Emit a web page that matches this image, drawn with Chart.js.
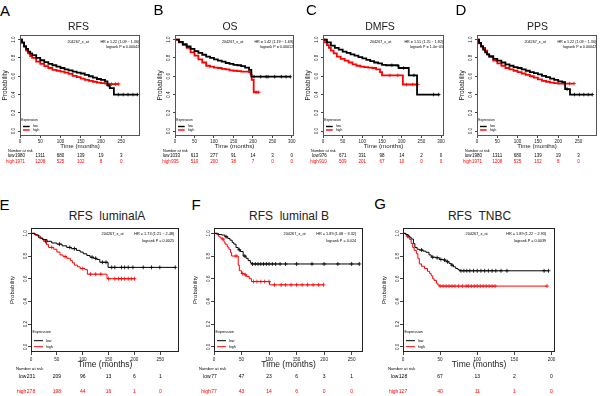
<!DOCTYPE html>
<html>
<head>
<meta charset="utf-8">
<script src="https://cdn.jsdelivr.net/npm/chart.js@4.4.1/dist/chart.umd.min.js"></script>
<style>
  body { margin: 0; width: 600px; height: 396px; position: relative; overflow: hidden; background: #fff;
         font-family: "Liberation Sans", Arial, sans-serif; }
  canvas { position: absolute; }
  .t { position: absolute; white-space: pre; line-height: 1; transform: translate(-50%, -50%); }
</style>
</head>
<body>
<script>
// axis ticks
const yTicks = [0, 0.2, 0.4, 0.6, 0.8, 1.0];
const ticks200 = [0, 50, 100, 150, 200];
const ticks250 = [0, 50, 100, 150, 200, 250];
const ticks300 = [0, 50, 100, 150, 200, 250, 300];

// Kaplan-Meier curves, [months, probability]
const rfsLow = [[0,1],[5,0.97],[10,0.93],[15,0.90],[20,0.87],[25,0.85],[30,0.83],[40,0.80],[50,0.775],[60,0.755],[70,0.735],[80,0.72],[90,0.705],[100,0.69],[110,0.675],[120,0.665],[130,0.65],[140,0.64],[150,0.63],[160,0.615],[170,0.60],[180,0.585],[190,0.57],[200,0.56],[210,0.545],[216,0.50],[222,0.47],[232,0.40],[292,0.40]];
const rfsLowCens = [[218,0.50],[243,0.40],[255,0.40],[267,0.40],[279,0.40],[290,0.40]];
const rfsHigh = [[0,1],[5,0.965],[10,0.92],[15,0.88],[20,0.85],[25,0.82],[30,0.80],[40,0.76],[50,0.735],[60,0.71],[70,0.69],[80,0.67],[90,0.66],[100,0.65],[110,0.64],[120,0.625],[130,0.605],[140,0.59],[150,0.575],[160,0.56],[170,0.55],[180,0.54],[190,0.53],[200,0.525],[210,0.52],[220,0.515],[244,0.515]];
const rfsHighCens = [[226,0.515],[236,0.515],[244,0.515]];
const rfsRiskLow = [1980, 1311, 680, 139, 19, 3];
const rfsRiskHigh = [1971, 1208, 525, 102, 8, 0];

const osLow = [[0,1],[10,0.975],[20,0.95],[30,0.925],[40,0.90],[50,0.875],[60,0.855],[70,0.835],[80,0.815],[90,0.80],[100,0.785],[110,0.77],[120,0.76],[130,0.745],[140,0.735],[150,0.725],[160,0.72],[170,0.71],[180,0.695],[190,0.67],[196,0.595],[296,0.595]];
const osLowCens = [[203,0.595],[220,0.595],[234,0.595],[239,0.595],[256,0.595],[273,0.595],[285,0.595],[296,0.595]];
const osHigh = [[0,1],[10,0.97],[20,0.94],[30,0.91],[40,0.86],[50,0.825],[60,0.785],[70,0.75],[80,0.715],[90,0.705],[100,0.695],[110,0.69],[120,0.68],[130,0.675],[140,0.665],[150,0.66],[160,0.655],[170,0.65],[190,0.645],[194,0.62],[197,0.56],[202,0.425],[215,0.425]];
const osHighCens = [[208,0.425],[215,0.425]];
const osRiskLow = [1033, 613, 277, 91, 14, 3, 0];
const osRiskHigh = [935, 510, 200, 38, 7, 0, 0];

const dmfsLow = [[0,1],[10,0.97],[20,0.935],[30,0.91],[40,0.89],[50,0.87],[60,0.855],[70,0.84],[80,0.825],[90,0.81],[100,0.795],[110,0.78],[120,0.765],[130,0.75],[140,0.74],[150,0.725],[160,0.72],[190,0.715],[192,0.69],[218,0.61],[239,0.40],[296,0.40]];
const dmfsLowCens = [[175,0.72],[205,0.69],[231,0.61],[281,0.40],[294,0.40]];
const dmfsHigh = [[0,1],[5,0.97],[10,0.94],[15,0.91],[20,0.88],[27,0.85],[35,0.815],[45,0.79],[55,0.77],[65,0.75],[75,0.73],[85,0.715],[95,0.705],[105,0.70],[115,0.695],[125,0.69],[135,0.675],[145,0.645],[150,0.61],[203,0.51],[241,0.51]];
const dmfsHighCens = [[170,0.61],[190,0.61],[212,0.51],[228,0.51],[241,0.51]];
const dmfsRiskLow = [976, 671, 331, 98, 14, 2, 0];
const dmfsRiskHigh = [910, 509, 201, 67, 10, 0, 0];

const ppsLow = [[0,1],[5,0.965],[10,0.925],[15,0.89],[20,0.86],[25,0.84],[30,0.82],[40,0.79],[50,0.77],[60,0.75],[70,0.73],[80,0.715],[90,0.70],[100,0.69],[110,0.675],[120,0.66],[130,0.645],[140,0.635],[150,0.62],[160,0.605],[170,0.59],[180,0.575],[190,0.56],[200,0.545],[210,0.535],[217,0.46],[229,0.40],[284,0.40]];
const ppsLowCens = [[222,0.46],[240,0.40],[252,0.40],[263,0.40],[274,0.40],[284,0.40]];
const ppsHigh = [[0,1],[5,0.96],[10,0.93],[15,0.91],[20,0.88],[25,0.84],[30,0.81],[40,0.77],[50,0.74],[60,0.715],[70,0.69],[80,0.675],[90,0.66],[100,0.645],[110,0.63],[120,0.615],[130,0.60],[140,0.585],[150,0.565],[160,0.55],[170,0.54],[180,0.53],[190,0.525],[200,0.52],[239,0.52]];
const ppsHighCens = [[215,0.52],[228,0.52],[239,0.52]];
const ppsRiskLow = [1980, 1311, 680, 139, 19, 3];
const ppsRiskHigh = [1971, 1208, 525, 102, 8, 0];

const lumALow = [[0,1],[8,0.985],[15,0.96],[22,0.945],[31,0.93],[40,0.915],[50,0.905],[60,0.89],[69,0.876],[78,0.865],[88,0.85],[95,0.835],[101,0.82],[108,0.805],[114,0.79],[121,0.78],[127,0.77],[133,0.745],[149,0.70],[279,0.70]];
const lumALowCens = [[28,0.93],[55,0.905],[75,0.876],[84,0.865],[118,0.79],[125,0.78],[138,0.745],[145,0.745],[156,0.70],[162,0.70],[175,0.70],[181,0.70],[188,0.70],[197,0.70],[217,0.70],[233,0.70],[249,0.70],[279,0.70]];
const lumAHigh = [[0,1],[6,0.99],[12,0.977],[18,0.955],[24,0.934],[30,0.90],[34,0.876],[44,0.86],[50,0.835],[56,0.81],[62,0.795],[69,0.78],[76,0.76],[80,0.74],[84,0.72],[90,0.705],[95,0.69],[104,0.68],[109,0.64],[147,0.60],[200,0.60]];
const lumAHighCens = [[40,0.876],[66,0.795],[100,0.69],[115,0.64],[125,0.64],[135,0.64],[150,0.60],[162,0.60],[169,0.60],[175,0.60],[181,0.60],[188,0.60],[194,0.60],[200,0.60]];
const lumARiskLow = [231, 209, 96, 13, 6, 1];
const lumARiskHigh = [278, 198, 44, 16, 1, 0];

const lumBLow = [[0,1],[8,0.99],[14,0.985],[20,0.97],[25,0.955],[29,0.94],[33,0.92],[36,0.905],[40,0.875],[44,0.855],[48,0.84],[53,0.80],[58,0.78],[62,0.76],[66,0.74],[68,0.73],[264,0.73]];
const lumBLowCens = [[22,0.97],[46,0.855],[56,0.80],[70,0.73],[75,0.73],[80,0.73],[85,0.73],[90,0.73],[95,0.73],[100,0.73],[106,0.73],[112,0.73],[120,0.73],[130,0.73],[150,0.73],[178,0.73],[200,0.73],[225,0.73],[250,0.73],[264,0.73]];
const lumBHigh = [[0,1],[5,0.99],[8,0.975],[11,0.96],[14,0.95],[18,0.925],[20,0.905],[24,0.88],[27,0.86],[30,0.83],[32,0.80],[44,0.72],[46,0.67],[50,0.645],[55,0.635],[59,0.62],[64,0.60],[68,0.575],[101,0.546],[199,0.546]];
const lumBHighCens = [[16,0.95],[40,0.80],[52,0.645],[57,0.635],[72,0.575],[78,0.575],[85,0.575],[92,0.575],[100,0.575],[110,0.546],[122,0.546],[130,0.546],[140,0.546],[150,0.546],[160,0.546],[170,0.546],[180,0.546],[190,0.546],[199,0.546]];
const lumBRiskLow = [77, 47, 23, 6, 3, 1];
const lumBRiskHigh = [77, 43, 14, 6, 0, 0];

const tnbcLow = [[0,1],[4,0.99],[7,0.977],[9,0.965],[11,0.95],[14,0.91],[16,0.876],[19,0.86],[22,0.853],[27,0.843],[31,0.833],[35,0.81],[38,0.79],[44,0.785],[49,0.77],[54,0.765],[58,0.75],[62,0.735],[65,0.72],[68,0.705],[71,0.69],[74,0.68],[76,0.67],[196,0.67]];
const tnbcLowCens = [[25,0.853],[40,0.79],[46,0.785],[51,0.77],[56,0.765],[60,0.75],[66,0.72],[78,0.67],[82,0.67],[86,0.67],[90,0.67],[95,0.67],[100,0.67],[105,0.67],[110,0.67],[115,0.67],[120,0.67],[125,0.67],[132,0.67],[140,0.67],[190,0.67],[196,0.67]];
const tnbcHigh = [[0,1],[3,0.99],[5,0.975],[7,0.96],[9,0.945],[11,0.91],[13,0.876],[15,0.85],[18,0.82],[20,0.78],[22,0.73],[25,0.71],[29,0.69],[33,0.665],[36,0.645],[38,0.625],[40,0.60],[42,0.585],[45,0.56],[47,0.545],[49,0.535],[194,0.535]];
const tnbcHighCens = [[6,0.975],[50,0.535],[54,0.535],[58,0.535],[62,0.535],[66,0.535],[70,0.535],[75,0.535],[80,0.535],[85,0.535],[88,0.535],[92,0.535],[96,0.535],[100,0.535],[104,0.535],[108,0.535],[112,0.535],[116,0.535],[120,0.535],[124,0.535],[194,0.535]];
const tnbcRiskLow = [128, 67, 13, 2, 0];
const tnbcRiskHigh = [127, 40, 11, 1, 0];

const RED = '#ff0000';
const FONT = 'Liberation Sans';

// two panel sizes: the four small ones on top, three larger ones below
const SMALL = { ymin: -0.053, ymax: 1.053, xh: 16, tableH: 14, lw: 1.8, cross: 1.8, tickLen: 2, tickPad: 1,
  tickFont: 4.5, yLab: 6.7, prob: 15, probFont: 6.5, xTitle: 10, xTitleFont: 6.2, hrFont: 3.7, hr1: 7.5, hr2: 12,
  legFont: 3.3, legHead: 15.5, legLow: 9.5, legHigh: 6, legX: [1.3, 3, 9.7, 13], legW: 1.4,
  riskHead: 15, riskLow: 19.7, riskHigh: 25.3, riskFont: 4.5, riskHeadFont: 3.8, riskX: -12, box: '#555',
  titleFont: 10.5, titleY: -6 };
const BIG = { ymin: -0.046, ymax: 1.049, xh: 20, tableH: 24, lw: 1, cross: 2, tickLen: 3, tickPad: 2,
  tickFont: 4.6, yLab: 5.7, prob: 19, probFont: 6, xTitle: 13, xTitleFont: 8.5, hrFont: 3.8, hr1: 5.7, hr2: 12.7,
  legFont: 3.7, legHead: 19.7, legLow: 11.3, legHigh: 5.3, legX: [1.5, 3, 12, 15], legW: 1,
  riskHead: 17, riskLow: 24.7, riskHigh: 39.7, riskFont: 5, riskHeadFont: 4.2, riskX: -15, box: '#222',
  titleFont: 12, titleY: -9.5 };

const panels = [
  { letter: 'A', at: [5, 9.5], title: 'RFS', box: [20, 32, 141, 136], xMax: 297, xTicks: ticks250, s: SMALL,
    low: rfsLow, high: rfsHigh, lowCens: rfsLowCens, highCens: rfsHighCens, riskLow: rfsRiskLow, riskHigh: rfsRiskHigh,
    probe: '204267_x_at', hr: 'HR = 1.22 (1.09 − 1.36)', p: 'logrank P = 0.00042', probeDx: -2, hrDx: -1, titleDx: -2 },
  { letter: 'B', at: [158.5, 9], title: 'OS', box: [175, 32, 295, 136], xMax: 306, xTicks: ticks300, s: SMALL,
    low: osLow, high: osHigh, lowCens: osLowCens, highCens: osHighCens, riskLow: osRiskLow, riskHigh: osRiskHigh,
    probe: '204267_x_at', hr: 'HR = 1.42 (1.19 − 1.69)', p: 'logrank P = 0.00012', probeDx: -2, hrDx: -1, titleDx: -5 },
  { letter: 'C', at: [311.5, 9], title: 'DMFS', box: [323, 32, 445, 136], xMax: 308, xTicks: ticks300, s: SMALL,
    low: dmfsLow, high: dmfsHigh, lowCens: dmfsLowCens, highCens: dmfsHighCens, riskLow: dmfsRiskLow, riskHigh: dmfsRiskHigh,
    probe: '204267_x_at', hr: 'HR = 1.51 (1.25 − 1.82)', p: 'logrank P = 1.4e−05', probeDx: -3, hrDx: -1, titleDx: -4 },
  { letter: 'D', at: [461, 9], title: 'PPS', box: [477, 32, 598, 136], xMax: 296, xTicks: ticks250, s: SMALL,
    low: ppsLow, high: ppsHigh, lowCens: ppsLowCens, highCens: ppsHighCens, riskLow: ppsRiskLow, riskHigh: ppsRiskHigh,
    probe: '204267_x_at', hr: 'HR = 1.22 (1.09 − 1.36)', p: 'logrank P = 0.00042', probeDx: -2, hrDx: -1, titleDx: 0 },
  { letter: 'E', at: [4.5, 203.5], title: 'RFS  luminalA', box: [31, 225, 180, 352], xMax: 286.5, xTicks: ticks250, s: BIG,
    low: lumALow, high: lumAHigh, lowCens: lumALowCens, highCens: lumAHighCens, riskLow: lumARiskLow, riskHigh: lumARiskHigh,
    probe: '204267_x_at', hr: 'HR = 1.73 (1.21 − 2.48)', p: 'logrank P = 0.0025', probeDx: 7.5, hrDx: -5, titleDx: 1.5 },
  { letter: 'F', at: [196, 203.5], title: 'RFS  luminal B', box: [214, 225, 364, 352], xMax: 271, xTicks: ticks250, s: BIG,
    low: lumBLow, high: lumBHigh, lowCens: lumBLowCens, highCens: lumBHighCens, riskLow: lumBRiskLow, riskHigh: lumBRiskHigh,
    probe: '204267_x_at', hr: 'HR = 1.89 (1.08 − 3.32)', p: 'logrank P = 0.024', probeDx: 6, hrDx: -7, titleDx: 0 },
  { letter: 'G', at: [380, 202.5], title: 'RFS  TNBC', box: [403, 225, 556, 352], xMax: 205, xTicks: ticks200, s: BIG,
    low: tnbcLow, high: tnbcHigh, lowCens: tnbcLowCens, highCens: tnbcHighCens, riskLow: tnbcRiskLow, riskHigh: tnbcRiskHigh,
    probe: '204267_x_at', hr: 'HR = 1.89 (1.22 − 2.93)', p: 'logrank P = 0.0039', probeDx: -2.5, hrDx: -9, titleDx: 0 }
];

function addText(txt, x, y, size, color) {
  const d = document.createElement('div');
  d.className = 't';
  d.textContent = txt;
  d.style.left = x + 'px';
  d.style.top = y + 'px';
  d.style.fontSize = size + 'px';
  d.style.color = color;
  document.body.appendChild(d);
}

const toXY = pts => pts.map(([x, y]) => ({ x, y }));

// box, rotated y labels, axis titles, inner legend, HR text and number-at-risk table
function decor(p) {
  const s = p.s;
  return {
    id: 'decor',
    afterDraw(chart) {
      const { ctx, chartArea: a, scales: { x, y } } = chart;
      ctx.save();
      ctx.strokeStyle = s.box;
      ctx.lineWidth = 1;
      ctx.strokeRect(Math.round(a.left) + 0.5, Math.round(a.top) + 0.5, Math.round(a.width) - 1, Math.round(a.height) - 1);

      ctx.fillStyle = '#222';
      ctx.textAlign = 'center';
      ctx.textBaseline = 'middle';
      ctx.font = s.tickFont + 'px "' + FONT + '"';
      yTicks.forEach(v => {
        ctx.save();
        ctx.translate(a.left - s.yLab, y.getPixelForValue(v));
        ctx.rotate(-Math.PI / 2);
        ctx.fillText(v.toFixed(1), 0, 0);
        ctx.restore();
      });
      ctx.save();
      ctx.font = s.probFont + 'px "' + FONT + '"';
      ctx.translate(a.left - s.prob, (a.top + a.bottom) / 2);
      ctx.rotate(-Math.PI / 2);
      ctx.fillText('Probability', 0, 0);
      ctx.restore();

      ctx.font = s.xTitleFont + 'px "' + FONT + '"';
      ctx.fillText('Time (months)', (a.left + a.right) / 2, a.bottom + s.xTitle);

      // probe id and hazard ratio
      ctx.fillStyle = '#000';
      ctx.font = s.hrFont + 'px "' + FONT + '"';
      ctx.fillText(p.probe, (a.left + a.right) / 2 + p.probeDx, a.top + s.hr1);
      ctx.textAlign = 'right';
      ctx.fillText(p.hr, a.right + p.hrDx, a.top + s.hr1);
      ctx.fillText(p.p, a.right + p.hrDx, a.top + s.hr2);

      // legend in the lower left corner
      ctx.textAlign = 'left';
      ctx.font = s.legFont + 'px "' + FONT + '"';
      ctx.fillText('Expression', a.left + s.legX[0], a.bottom - s.legHead);
      [['low', '#000', s.legLow], ['high', RED, s.legHigh]].forEach(([lab, col, dy]) => {
        ctx.strokeStyle = col;
        ctx.lineWidth = s.legW;
        ctx.beginPath();
        ctx.moveTo(a.left + s.legX[1], a.bottom - dy);
        ctx.lineTo(a.left + s.legX[2], a.bottom - dy);
        ctx.stroke();
        ctx.fillStyle = '#000';
        ctx.fillText(lab, a.left + s.legX[3], a.bottom - dy);
      });

      // number at risk
      ctx.font = s.riskHeadFont + 'px "' + FONT + '"';
      ctx.fillText('Number at risk', a.left + s.riskX, a.bottom + s.riskHead);
      ctx.font = s.riskFont + 'px "' + FONT + '"';
      [['low', '#000', p.riskLow, s.riskLow], ['high', RED, p.riskHigh, s.riskHigh]].forEach(([lab, col, vals, dy]) => {
        ctx.fillStyle = col;
        ctx.textAlign = 'right';
        const first = ctx.measureText(String(vals[0])).width;
        ctx.fillText(lab, x.getPixelForValue(p.xTicks[0]) - first / 2 - 0.5, a.bottom + dy);
        ctx.textAlign = 'center';
        vals.forEach((v, i) => ctx.fillText(String(v), x.getPixelForValue(p.xTicks[i]), a.bottom + dy));
      });
      ctx.restore();
    }
  };
}

panels.forEach(p => {
  const s = p.s;
  const [bl, bt, br, bb] = p.box;
  const cv = document.createElement('canvas');
  const w = br - bl + 26, h = bb - bt + 2 + s.xh + s.tableH;
  cv.width = w; cv.height = h;
  cv.style.left = (bl - 22) + 'px';
  cv.style.top = (bt - 2) + 'px';
  cv.style.width = w + 'px';
  cv.style.height = h + 'px';
  document.body.appendChild(cv);

  addText(p.letter, p.at[0], p.at[1], 15, '#000');
  addText(p.title, (bl + br) / 2 + p.titleDx, bt + s.titleY, s.titleFont, '#222');

  new Chart(cv.getContext('2d'), {
    type: 'line',
    data: {
      datasets: [
        { data: toXY(p.low), borderColor: '#000', borderWidth: s.lw, stepped: true, pointRadius: 0, fill: false },
        { data: toXY(p.high), borderColor: RED, borderWidth: s.lw, stepped: true, pointRadius: 0, fill: false },
        { data: toXY(p.lowCens), showLine: false, pointStyle: 'cross', pointRadius: s.cross, borderColor: '#000', borderWidth: 0.8 },
        { data: toXY(p.highCens), showLine: false, pointStyle: 'cross', pointRadius: s.cross, borderColor: RED, borderWidth: 0.8 }
      ]
    },
    options: {
      responsive: false,
      animation: false,
      devicePixelRatio: 1,
      layout: { padding: { left: 0, top: 2, right: 4, bottom: s.tableH } },
      plugins: { legend: { display: false }, tooltip: { enabled: false } },
      scales: {
        x: {
          type: 'linear', min: 0, max: p.xMax,
          afterBuildTicks: sc => { sc.ticks = p.xTicks.map(v => ({ value: v })); },
          afterFit: sc => { sc.height = s.xh; },
          border: { display: false },
          grid: { drawOnChartArea: false, drawTicks: true, tickLength: s.tickLen, tickColor: '#444', tickWidth: 1 },
          ticks: { autoSkip: false, maxRotation: 0, padding: s.tickPad, color: '#222', font: { family: FONT, size: s.tickFont } }
        },
        y: {
          min: s.ymin, max: s.ymax,
          afterBuildTicks: sc => { sc.ticks = yTicks.map(v => ({ value: v })); },
          afterFit: sc => { sc.width = 22; },
          border: { display: false },
          grid: { drawOnChartArea: false, drawTicks: true, tickLength: s.tickLen, tickColor: '#444', tickWidth: 1 },
          ticks: { display: false }
        }
      }
    },
    plugins: [decor(p)]
  });
});
</script>
</body>
</html>
